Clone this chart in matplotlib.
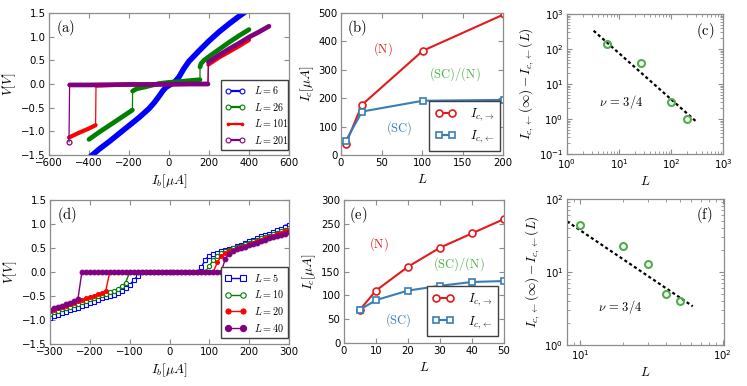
import matplotlib
matplotlib.use('Agg')
import matplotlib.pyplot as plt
from matplotlib.lines import Line2D

plt.rcParams.update({
    'font.family': ['DejaVu Sans'],
    'mathtext.fontset': 'cm',
    'font.size': 7.3,
    'axes.edgecolor': '0.55',
    'axes.linewidth': 0.9,
    'xtick.direction': 'in', 'ytick.direction': 'in',
    'xtick.top': True, 'ytick.right': True,
    'xtick.color': '0.55', 'ytick.color': '0.55',
    'xtick.labelcolor': 'black', 'ytick.labelcolor': 'black',
    'xtick.major.size': 3.5, 'ytick.major.size': 3.5,
    'xtick.minor.size': 2, 'ytick.minor.size': 2,
    'xtick.major.pad': 2.5, 'ytick.major.pad': 2.5,
    'axes.labelsize': 9.5,
    'legend.fancybox': False,
    'legend.edgecolor': '0.25',
    'legend.framealpha': 1,
})

# ---------------- data ----------------
# (a) I-V curves, branches separated by jumps
a6_I = [[-500, -450, -400, -350, -300, -250, -200, -150, -100, -75, -50, -30, -15, 0, 15, 30, 50, 75, 100, 150, 200, 250, 300, 350, 400, 450, 500]]
a6_V = [[-1.92, -1.74, -1.56, -1.38, -1.22, -1.05, -0.88, -0.71, -0.52, -0.40, -0.26, -0.14, -0.07, -0.03, 0.01, 0.05, 0.15, 0.33, 0.48, 0.70, 0.91, 1.10, 1.27, 1.43, 1.58, 1.72, 1.86]]

a26_I = [[400, 350, 300, 250, 200, 175, 160, 155],
         [155, 100, 50, 0, -50, -117, -160, -175, -182],
         [-183, -250, -300, -350, -400]]
a26_V = [[1.15, 1.02, 0.88, 0.73, 0.58, 0.50, 0.43, 0.36],
         [0.09, 0.07, 0.05, 0.035, 0.01, -0.06, -0.10, -0.13, -0.15],
         [-0.55, -0.74, -0.88, -1.02, -1.17]]

a101_I = [[400, 350, 300, 250, 197],
          [195, 100, 0, -100, -200, -300, -365],
          [-367, -400, -450, -500]]
a101_V = [[0.93, 0.80, 0.68, 0.56, 0.41],
          [0.0, 0.0, -0.005, -0.01, -0.01, -0.025, -0.035],
          [-0.87, -0.94, -1.03, -1.13]]

a201_I = [[500, 450, 400, 350, 300, 250, 197],
          [195, 100, 0, -100, -200, -300, -400, -497],
          [-500]]
a201_V = [[1.22, 1.10, 0.99, 0.86, 0.74, 0.61, 0.46],
          [0.0, 0.0, -0.005, -0.01, -0.01, -0.015, -0.02, -0.02],
          [-1.22]]

# (b) critical currents vs L
b_L = [6, 26, 101, 201]
b_Ic_fwd = [40, 177, 367, 495]
b_Ic_bwd = [50, 153, 191, 194]

# (c) scaling
c_L = [6, 26, 101, 201]
c_dI = [138, 40, 3.05, 1.0]
c_fit_L = [3.25, 307]
c_fit_y = [333, 0.84]

# (d) I-V curves, sweep grid
d_I = [-300, -290, -280, -270, -260, -250, -240, -230, -220, -210, -200, -190, -180, -170, -160,
       -150, -140, -130, -120, -110, -100, -90, -80, -70, -60, -50, -40, -30, -20, -10, 0,
       10, 20, 30, 40, 50, 60, 70, 80, 90, 100, 110, 120, 130, 140, 150, 160, 170, 180, 190,
       200, 210, 220, 230, 240, 250, 260, 270, 280, 290, 300]
d5_V = ([-0.95, -0.92, -0.89, -0.86, -0.83, -0.80, -0.77, -0.74, -0.71, -0.68, -0.65, -0.62,
         -0.58, -0.55, -0.52, -0.50, -0.47, -0.43, -0.39, -0.33, -0.27, -0.17, -0.08, -0.01]
        + [0.0] * 14 +
        [0.10, 0.26, 0.34, 0.37, 0.40, 0.43, 0.45, 0.48, 0.51, 0.54, 0.57, 0.61, 0.64, 0.67,
         0.70, 0.74, 0.77, 0.80, 0.84, 0.87, 0.90, 0.94, 0.97])
d10_V = ([-0.87, -0.84, -0.81, -0.78, -0.75, -0.72, -0.69, -0.66, -0.63, -0.60, -0.57, -0.54,
          -0.51, -0.48, -0.45, -0.42, -0.39, -0.35, -0.30, -0.22]
         + [0.0] * 20 +
         [0.13, 0.25, 0.34, 0.39, 0.43, 0.46, 0.49, 0.52, 0.55, 0.58, 0.61, 0.64, 0.67, 0.70,
          0.73, 0.76, 0.79, 0.82, 0.85, 0.88, 0.91])
d20_V = ([-0.82, -0.79, -0.76, -0.73, -0.70, -0.67, -0.64, -0.61, -0.58, -0.55, -0.52, -0.49,
          -0.46, -0.43, -0.39]
         + [0.0] * 27 +
         [0.20, 0.33, 0.39, 0.43, 0.46, 0.49, 0.52, 0.55, 0.58, 0.61, 0.64, 0.67, 0.70, 0.73,
          0.76, 0.79, 0.82, 0.85, 0.88])
d40_V = ([-0.79, -0.76, -0.73, -0.70, -0.67, -0.64, -0.61, -0.57]
         + [0.0] * 36 +
         [0.28, 0.38, 0.44, 0.47, 0.50, 0.53, 0.56, 0.59, 0.61, 0.64, 0.67, 0.70, 0.72, 0.75,
          0.78, 0.80, 0.83])

# (e) critical currents vs L
e_L = [5, 10, 20, 30, 40, 50]
e_Ic_fwd = [70, 110, 160, 200, 230, 260]
e_Ic_bwd = [70, 90, 110, 120, 128, 130]

# (f) scaling
f_L = [10, 20, 30, 40, 50]
f_dI = [43.6, 22.9, 13.0, 4.94, 4.0]
f_fit_L = [8.07, 61.6]
f_fit_y = [49.4, 3.39]

RED = '#e41a1c'
BLUE = '#377eb8'
GREEN = '#4daf4a'

# ---------------- figure ----------------
W, H = 747, 386
fig = plt.figure(figsize=(W / 100, H / 100), dpi=100)


def ax_px(l, r, t, b):
    return fig.add_axes([l / W, 1 - b / H, (r - l) / W, (b - t) / H])


def panel_label(ax, s, x, y):
    ax.text(x, y, r'$\mathrm{' + s + '}$', transform=ax.transAxes, fontsize=10.5,
            ha='center', va='center')


axa = ax_px(49, 289, 13, 155)
axb = ax_px(341, 503, 13, 155)
axc = ax_px(567, 723, 14, 154)
axd = ax_px(50, 289, 200, 344)
axe = ax_px(344, 504, 200, 343)
axf = ax_px(567, 724, 199, 345)

# ----- (a)
a_sets = [(a6_I, a6_V, 'blue', 4.0, '$L = 6$', 'o', 'white'),
          (a26_I, a26_V, 'green', 3.4, '$L = 26$', 'o', 'white'),
          (a101_I, a101_V, 'red', 3.0, '$L = 101$', '.', 'red'),
          (a201_I, a201_V, 'purple', 3.4, '$L = 201$', 'o', 'white')]
a_handles = []
for Is, Vs, col, lw, lab, mk, mfc in a_sets:
    allI = [i for br in Is for i in br]
    allV = [v for br in Vs for v in br]
    axa.plot(allI, allV, color=col, lw=0.9)
    for bi, bv in zip(Is, Vs):
        if len(bi) > 1:
            axa.plot(bi, bv, color=col, lw=lw, solid_capstyle='round')
        else:
            axa.plot(bi, bv, color=col, ls='none', marker='o', ms=3.5, mfc='none', mew=0.9)
    a_handles.append(Line2D([], [], color=col, lw=1.6, marker=mk, ms=3.5, mfc=mfc, mec=col,
                            mew=0.8, label=lab))
axa.set_xlim(-600, 600)
axa.set_ylim(-1.5, 1.5)
axa.set_xticks([-600, -400, -200, 0, 200, 400, 600])
axa.set_yticks([-1.5, -1.0, -0.5, 0.0, 0.5, 1.0, 1.5])
axa.set_xlabel(r'$I_b[\mu A]$', labelpad=3)
axa.set_ylabel(r'$V[V]$', labelpad=2)
axa.legend(handles=a_handles, loc='lower left', bbox_to_anchor=(0.715, 0.033, 0.282, 0.392),
           mode='expand', fontsize=7.3, numpoints=2, handlelength=2.0, borderaxespad=0,
           labelspacing=0.45, handletextpad=0.8, borderpad=0.45)
panel_label(axa, '(a)', 0.07, 0.893)

# ----- (b)
axb.plot(b_L, b_Ic_fwd, color=RED, lw=1.5, marker='o', ms=5, mfc='white', mec=RED, mew=1.2,
         label=r'$I_{c,\rightarrow}$')
axb.plot(b_L, b_Ic_bwd, color=BLUE, lw=1.5, marker='s', ms=5, mfc='white', mec=BLUE, mew=1.2,
         label=r'$I_{c,\leftarrow}$')
axb.set_xlim(0, 200)
axb.set_ylim(0, 500)
axb.set_xticks([0, 50, 100, 150, 200])
axb.set_yticks([0, 100, 200, 300, 400, 500])
axb.set_xlabel(r'$L$', labelpad=3)
axb.set_ylabel(r'$I_c[\mu A]$', labelpad=2)
axb.text(51.5, 373, r'$\mathrm{(N)}$', color=RED, fontsize=9, ha='center', va='center')
axb.text(140, 286, r'$\mathrm{(SC)/(N)}$', color=GREEN, fontsize=9, ha='center', va='center')
axb.text(71.7, 94, r'$\mathrm{(SC)}$', color=BLUE, fontsize=9, ha='center', va='center')
axb.legend(loc='lower right', bbox_to_anchor=(0.984, 0.03), borderaxespad=0,
           fontsize=9, numpoints=2, handlelength=1.7, labelspacing=0.45,
           handletextpad=1.1, borderpad=0.45)
panel_label(axb, '(b)', 0.098, 0.894)

# ----- (c)
axc.plot(c_fit_L, c_fit_y, color='black', lw=1.6, ls=(0, (1.4, 1.2)))
axc.plot(c_L, c_dI, ls='none', marker='o', ms=5, mfc='none', mec=GREEN, mew=1.5)
axc.set_xscale('log')
axc.set_yscale('log')
axc.set_xlim(1, 1000)
axc.set_ylim(0.1, 1000)
axc.set_xlabel(r'$L$', labelpad=3)
axc.set_ylabel(r'$I_{c,\leftarrow}(\infty)-I_{c,\leftarrow}(L)$', labelpad=2)
axc.text(11, 3.0, r'$\nu\,=\,3/4$', fontsize=9, ha='center', va='center')
panel_label(axc, '(c)', 0.885, 0.88)

# ----- (d)
d_sets = [(d5_V, 'blue', 's', 3.0, 'white', '$L = 5$'),
          (d10_V, 'green', 'o', 3.0, 'white', '$L = 10$'),
          (d20_V, 'red', 'o', 2.8, 'red', '$L = 20$'),
          (d40_V, 'purple', 'o', 3.4, 'purple', '$L = 40$')]
for V, col, mk, ms, mfc, lab in d_sets:
    axd.plot(d_I, V, color=col, lw=1.0, marker=mk, ms=ms, mfc=mfc, mec=col, mew=0.8, label=lab)
axd.set_xlim(-300, 300)
axd.set_ylim(-1.5, 1.5)
axd.set_xticks([-300, -200, -100, 0, 100, 200, 300])
axd.set_yticks([-1.5, -1.0, -0.5, 0.0, 0.5, 1.0, 1.5])
axd.set_xlabel(r'$I_b[\mu A]$', labelpad=3)
axd.set_ylabel(r'$V[V]$', labelpad=2)
axd.legend(loc='lower left', bbox_to_anchor=(0.715, 0.041, 0.282, 0.393), mode='expand',
           fontsize=7.3, numpoints=2, handlelength=2.0, borderaxespad=0, labelspacing=0.45,
           handletextpad=0.8, borderpad=0.45, markerscale=1.3)
panel_label(axd, '(d)', 0.07, 0.897)

# ----- (e)
axe.plot(e_L, e_Ic_fwd, color=RED, lw=1.5, marker='o', ms=5, mfc='white', mec=RED, mew=1.2,
         label=r'$I_{c,\rightarrow}$')
axe.plot(e_L, e_Ic_bwd, color=BLUE, lw=1.5, marker='s', ms=5, mfc='white', mec=BLUE, mew=1.2,
         label=r'$I_{c,\leftarrow}$')
axe.set_xlim(0, 50)
axe.set_ylim(0, 300)
axe.set_xticks([0, 10, 20, 30, 40, 50])
axe.set_yticks([0, 50, 100, 150, 200, 250, 300])
axe.set_xlabel(r'$L$', labelpad=3)
axe.set_ylabel(r'$I_c[\mu A]$', labelpad=2)
axe.text(10.9, 207, r'$\mathrm{(N)}$', color=RED, fontsize=9, ha='center', va='center')
axe.text(36, 165, r'$\mathrm{(SC)/(N)}$', color=GREEN, fontsize=9, ha='center', va='center')
axe.text(17, 49, r'$\mathrm{(SC)}$', color=BLUE, fontsize=9, ha='center', va='center')
axe.legend(loc='lower right', bbox_to_anchor=(0.964, 0.047), borderaxespad=0,
           fontsize=9, numpoints=2, handlelength=1.7, labelspacing=0.45,
           handletextpad=1.1, borderpad=0.45)
panel_label(axe, '(e)', 0.088, 0.895)

# ----- (f)
axf.plot(f_fit_L, f_fit_y, color='black', lw=1.6, ls=(0, (1.4, 1.2)))
axf.plot(f_L, f_dI, ls='none', marker='o', ms=5, mfc='none', mec=GREEN, mew=1.5)
axf.set_xscale('log')
axf.set_yscale('log')
axf.set_xlim(8.07, 102)
axf.set_ylim(1, 100)
axf.set_xlabel(r'$L$', labelpad=3)
axf.set_ylabel(r'$I_{c,\leftarrow}(\infty)-I_{c,\leftarrow}(L)$', labelpad=2)
axf.text(19, 3.3, r'$\nu\,=\,3/4$', fontsize=9, ha='center', va='center')
panel_label(axf, '(f)', 0.873, 0.89)

fig.savefig('out.png', dpi=100)
